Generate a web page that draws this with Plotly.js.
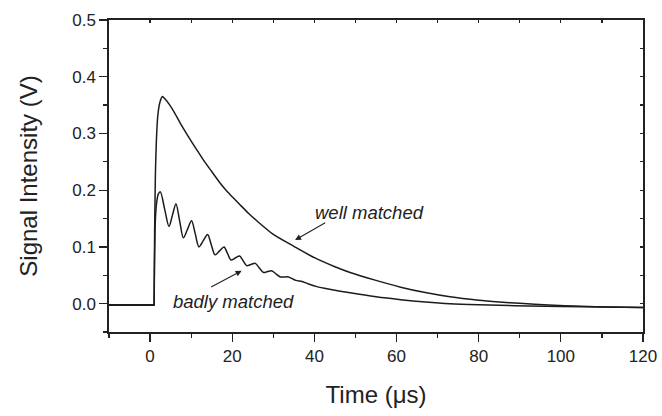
<!DOCTYPE html>
<html>
<head>
<meta charset="utf-8">
<script src="https://cdn.plot.ly/plotly-3.0.1.min.js"></script>
<style>html,body{margin:0;padding:0;background:#fff;}#chart{width:662px;height:416px;}</style>
</head>
<body>
<div id="chart"></div>
<script>
// Time (µs) and signal (V) for the well matched transducer
const wellTime = [-10, 0.98, 0.98, 1.1, 1.3, 1.55, 1.9, 2.4, 3.0, 3.6, 4.8, 6.0, 7.2, 9.7, 11.3, 13, 15, 16.8, 18.6, 20.6, 22, 24, 26.3, 30, 35, 40, 45, 48.7, 55, 61, 67, 73, 80, 85, 90, 97, 105, 112, 120];
const wellSignal = [-0.003, -0.003, -0.003, 0.12, 0.23, 0.29, 0.333, 0.355, 0.365, 0.361, 0.350, 0.336, 0.320, 0.290, 0.272, 0.253, 0.233, 0.215, 0.199, 0.184, 0.1735, 0.159, 0.144, 0.122, 0.101, 0.081, 0.065, 0.055, 0.041, 0.029, 0.0195, 0.012, 0.006, 0.003, 0.0005, -0.0025, -0.0045, -0.006, -0.007];

// Time (µs) and signal (V) for the badly matched transducer
const badTime = [-10, 0.98, 0.98, 1.1, 1.3, 1.6, 2.0, 2.5, 3.55, 4.6, 5.45, 6.3, 7.2, 8.1, 9.1, 10.1, 11.0, 11.9, 12.95, 14.0, 14.9, 15.8, 16.9, 18.0, 18.85, 19.7, 20.75, 21.8, 22.65, 23.5, 24.55, 25.6, 26.6, 27.6, 28.6, 29.6, 30.65, 31.7, 32.7, 33.7, 34.6, 35.5, 37.0, 38.5, 40.6, 44, 48.7, 55, 61, 67, 73, 80, 85, 92, 100, 110, 120];
const badSignal = [-0.002, -0.002, -0.002, 0.08, 0.15, 0.178, 0.193, 0.197, 0.1665, 0.136, 0.156, 0.176, 0.146, 0.116, 0.131, 0.146, 0.123, 0.100, 0.111, 0.122, 0.104, 0.086, 0.093, 0.100, 0.0885, 0.077, 0.0805, 0.084, 0.0755, 0.067, 0.069, 0.071, 0.063, 0.055, 0.0565, 0.058, 0.0525, 0.047, 0.047, 0.047, 0.044, 0.041, 0.039, 0.035, 0.030, 0.025, 0.019, 0.012, 0.007, 0.003, 0.000, -0.002, -0.003, -0.004, -0.005, -0.006, -0.007];

const xTickVals = [0, 20, 40, 60, 80, 100, 120];
const yTickVals = [0.0, 0.1, 0.2, 0.3, 0.4, 0.5];

const labelWell = 'well matched';
const labelBad = 'badly matched';

const lineColor = '#1c1c1c';
const font = 'Liberation Sans, Arial, Helvetica, sans-serif';

const traces = [
  {x: wellTime, y: wellSignal, mode: 'lines', line: {color: lineColor, width: 1.5, shape: 'spline', smoothing: 0.7, simplify: false}, name: labelWell, hoverinfo: 'skip'},
  {x: badTime, y: badSignal, mode: 'lines', line: {color: lineColor, width: 1.5, shape: 'spline', smoothing: 0.85, simplify: false}, name: labelBad, hoverinfo: 'skip'}
];

const layout = {
  width: 662, height: 416,
  margin: {l: 109, r: 19, t: 20, b: 84},
  paper_bgcolor: '#fff', plot_bgcolor: '#fff',
  showlegend: false,
  font: {family: font, color: '#222', size: 17},
  xaxis: {
    range: [-10, 120], autorange: false,
    tickmode: 'array', tickvals: xTickVals, ticktext: xTickVals.map(String),
    ticks: 'outside', ticklen: 8, tickwidth: 1.3, tickcolor: '#222',
    minor: {ticks: 'outside', dtick: 10, tick0: 0, ticklen: 4, tickwidth: 1.2, tickcolor: '#222'},
    showgrid: false, zeroline: false,
    showline: true, linecolor: '#222', linewidth: 1.6, mirror: true,
    tickfont: {size: 17, family: font, color: '#222'},
    title: {text: 'Time (\u03bcs)', font: {size: 24, family: font, color: '#222'}, standoff: 21}
  },
  yaxis: {
    range: [-0.05, 0.5], autorange: false,
    tickmode: 'array', tickvals: yTickVals, ticktext: yTickVals.map(v => v.toFixed(1)),
    ticks: 'outside', ticklen: 8, tickwidth: 1.3, tickcolor: '#222',
    minor: {ticks: 'outside', dtick: 0.05, tick0: 0, ticklen: 4, tickwidth: 1.2, tickcolor: '#222'},
    showgrid: false, zeroline: false,
    showline: true, linecolor: '#222', linewidth: 1.6, mirror: true,
    tickfont: {size: 17, family: font, color: '#222'},
    title: {text: 'Signal Intensity (V)', font: {size: 24, family: font, color: '#222'}, standoff: 28}
  },
  xaxis2: {
    overlaying: 'x', side: 'top', range: [-10, 120], autorange: false,
    dtick: 10, tick0: 0, ticks: 'inside', ticklen: 3, tickwidth: 1.2, tickcolor: '#222',
    showticklabels: false, showgrid: false, zeroline: false, showline: false
  },
  yaxis2: {
    overlaying: 'y', side: 'right', range: [-0.05, 0.5], autorange: false,
    dtick: 0.05, tick0: 0, ticks: 'inside', ticklen: 3, tickwidth: 1.2, tickcolor: '#222',
    showticklabels: false, showgrid: false, zeroline: false, showline: false
  },
  annotations: [
    {x: 35.3, y: 0.112, ax: 43, ay: 0.144, xref: 'x', yref: 'y', axref: 'x', ayref: 'y',
     text: '', showarrow: true, arrowhead: 2, arrowsize: 1.1, arrowwidth: 1.1, arrowcolor: '#222'},
    {x: 22.3, y: 0.058, ax: 14.5, ay: 0.028, xref: 'x', yref: 'y', axref: 'x', ayref: 'y',
     text: '', showarrow: true, arrowhead: 2, arrowsize: 1.1, arrowwidth: 1.1, arrowcolor: '#222'},
    {x: 53.3, y: 0.161, xref: 'x', yref: 'y', text: '<i>' + labelWell + '</i>', showarrow: false,
     font: {size: 18.5, family: font, color: '#222'}},
    {x: 20.3, y: 0.003, xref: 'x', yref: 'y', text: '<i>' + labelBad + '</i>', showarrow: false,
     font: {size: 18.5, family: font, color: '#222'}}
  ]
};

// invisible trace so the mirrored tick axes are drawn
traces.push({x: [-10], y: [-0.05], xaxis: 'x2', yaxis: 'y2', mode: 'markers', marker: {opacity: 0}, hoverinfo: 'skip', showlegend: false});

Plotly.newPlot('chart', traces, layout, {staticPlot: true, displayModeBar: false});
</script>
</body>
</html>
